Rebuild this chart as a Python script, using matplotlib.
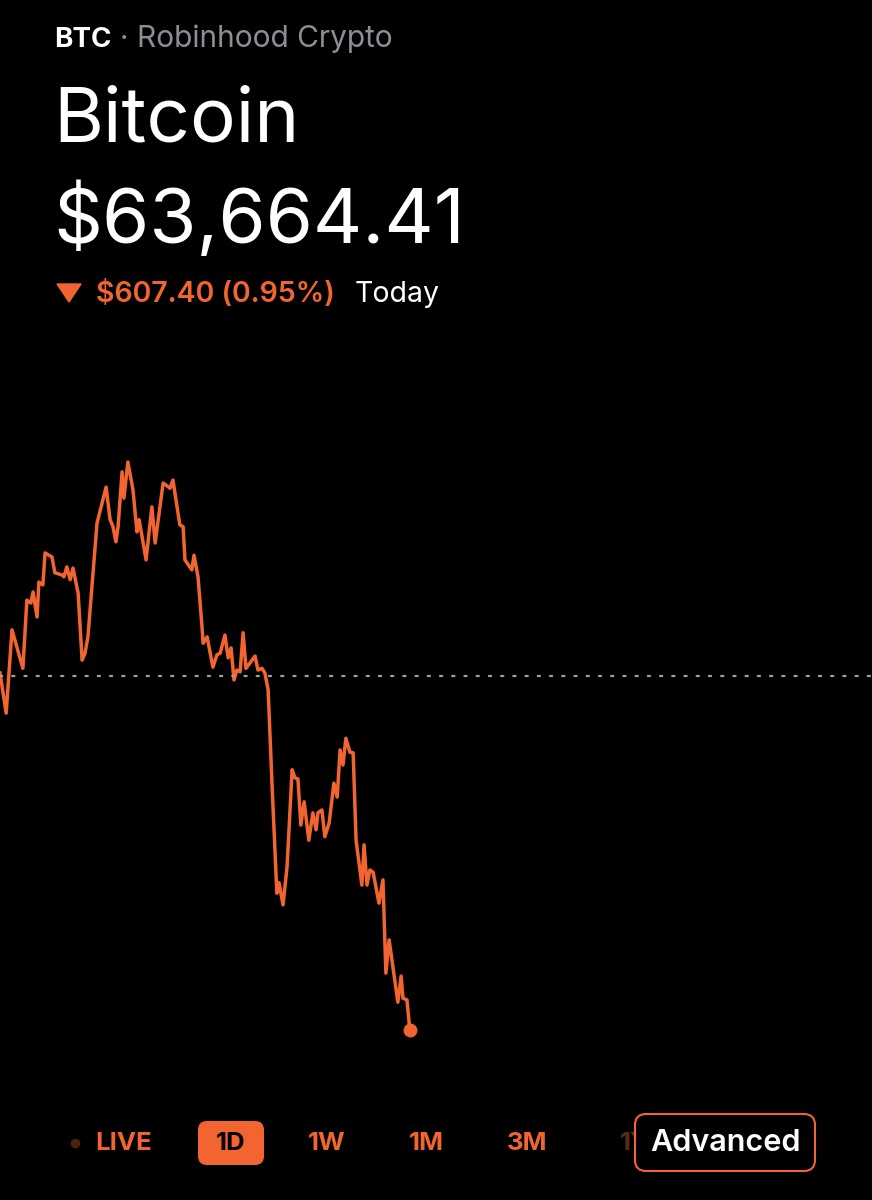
import matplotlib
matplotlib.use('Agg')
import matplotlib.pyplot as plt
from matplotlib.patches import FancyBboxPatch, Polygon

# price trace for the day (hours since open, USD)
hours = [0.00, 0.17, 0.33, 0.63, 0.74, 0.85, 0.91, 1.02, 1.07, 1.18,
         1.24, 1.43, 1.51, 1.71, 1.76, 1.84, 1.93, 2.01, 2.15, 2.26,
         2.34, 2.42, 2.67, 2.92, 3.03, 3.11, 3.19, 3.25, 3.36, 3.41,
         3.52, 3.66, 3.77, 3.83, 4.02, 4.18, 4.27, 4.49, 4.68, 4.76,
         4.95, 5.04, 5.09, 5.28, 5.34, 5.45, 5.56, 5.59, 5.70, 5.86,
         5.97, 6.06, 6.19, 6.28, 6.36, 6.44, 6.52, 6.61, 6.69, 6.77,
         7.02, 7.10, 7.21, 7.29, 7.38, 7.49, 7.62, 7.68, 7.79, 7.90,
         8.04, 8.12, 8.20, 8.28, 8.37, 8.50, 8.61, 8.70, 8.75, 8.86,
         8.94, 9.06, 9.19, 9.28, 9.36, 9.44, 9.52, 9.63, 9.72, 9.80,
         9.96, 10.02, 10.10, 10.18, 10.27, 10.43, 10.54, 10.62, 10.71, 10.95,
         11.04, 11.09, 11.20, 11.28]
prices = [64277, 64208, 64351, 64285, 64402, 64397, 64416, 64373, 64433, 64428,
          64483, 64476, 64449, 64445, 64442, 64459, 64437, 64457, 64414, 64299,
          64311, 64339, 64534, 64596, 64540, 64528, 64502, 64528, 64622, 64577,
          64639, 64591, 64519, 64540, 64471, 64562, 64500, 64603, 64594, 64608,
          64531, 64528, 64471, 64454, 64479, 64442, 64356, 64328, 64339, 64287,
          64308, 64311, 64342, 64303, 64320, 64265, 64282, 64279, 64346, 64285,
          64306, 64282, 64285, 64277, 64248, 64081, 63899, 63917, 63879, 63944,
          64111, 64097, 64095, 64016, 64056, 63990, 64037, 64008, 64037, 64042,
          63996, 64020, 64088, 64064, 64145, 64119, 64165, 64141, 64140, 63990,
          63913, 63982, 63913, 63939, 63935, 63882, 63922, 63762, 63819, 63712,
          63757, 63719, 63716, 63664.41]

prev_close = 64271.81
last_price = 63664.41
change = 607.40
change_pct = 0.95

ranges = ['LIVE', '1D', '1W', '1M', '3M', '1Y']

orange = '#f26430'
font = ['Inter', 'DejaVu Sans']

fig = plt.figure(figsize=(8.72, 12), dpi=100, facecolor='black')

# chart area
ax = fig.add_axes([0, 1 - 1060 / 1200, 1, 630 / 1200])
ax.set_facecolor('black')
ax.plot(hours, prices, color=orange, lw=2.5, solid_joinstyle='round')
ax.plot(hours[-1], prices[-1], 'o', color=orange, markersize=9)
ax.axhline(prev_close, color='#a0a0a0', lw=1.6, linestyle=(0, (1, 4.5)),
           dash_capstyle='round')
ax.set_xlim(0, 24)
ax.set_ylim(63612.9, 64693.9)
ax.axis('off')

# overlay in pixel units for the header and range buttons
ov = fig.add_axes([0, 0, 1, 1], facecolor='none')
ov.set_xlim(0, 872)
ov.set_ylim(1200, 0)
ov.axis('off')

ov.text(54, 47, 'BTC', color='white', fontsize=20, fontweight='bold',
        family=font, va='baseline')
ov.text(120, 47, '·', color='#8a8f94', fontsize=21, family=font,
        va='baseline')
ov.text(137, 47, 'Robinhood Crypto', color='#8a8f94', fontsize=21.5,
        family=font, va='baseline')
ov.text(53, 142, 'Bitcoin', color='white', fontsize=55, family=font,
        va='baseline')
ov.text(53, 243, f'${last_price:,.2f}', color='white', fontsize=55,
        family=font, va='baseline')
ov.add_patch(Polygon([[57, 284], [81, 284], [69, 302]], closed=True,
                     color=orange))
ov.text(96, 302, f'${change:,.2f} ({change_pct:.2f}%)', color=orange,
        fontsize=20.5, fontweight='semibold', family=font, va='baseline')
ov.text(355, 302, 'Today', color='white', fontsize=20.5, family=font,
        va='baseline')

# range selector
ov.plot(75, 1143, 'o', color='#4a2210', markersize=6)
label_x = [124, 231, 327, 426, 527, 635]
for lab, x in zip(ranges, label_x):
    col = orange
    if lab == '1D':
        ov.add_patch(FancyBboxPatch((198, 1121), 66, 44,
                                    boxstyle='round,pad=0,rounding_size=9',
                                    facecolor=orange, edgecolor='none'))
        col = 'black'
    if lab == '1Y':
        col = '#5a2c14'
    ov.text(x, 1143, lab, color=col, fontsize=18.5, fontweight='bold',
            family=font, ha='center', va='center')

ov.add_patch(FancyBboxPatch((635, 1114), 180, 57,
                            boxstyle='round,pad=0,rounding_size=11',
                            facecolor='black', edgecolor=orange, lw=1.5,
                            zorder=5))
ov.text(725, 1143, 'Advanced', color='white', fontsize=22,
        fontweight='semibold', family=font, ha='center', va='center',
        zorder=6)

fig.savefig('out.png', dpi=100, facecolor='black')
